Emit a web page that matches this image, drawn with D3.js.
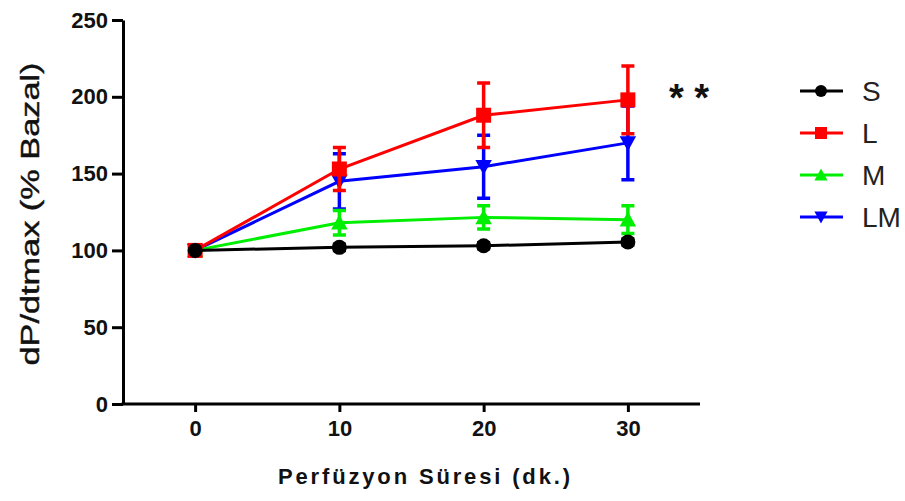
<!DOCTYPE html>
<html>
<head>
<meta charset="utf-8">
<script src="https://cdn.jsdelivr.net/npm/d3@7"></script>
<style>
  html, body { margin: 0; padding: 0; background: #fff; }
  svg { display: block; font-family: "Liberation Sans", Arial, sans-serif; }
</style>
</head>
<body>
<svg id="chart" width="905" height="501"></svg>
<script>
// Perfusion time (min)
const times = [0, 10, 20, 30];

// Series: mean and SEM (% of baseline)
const seriesNames = ["S", "L", "M", "LM"];
const sValues  = [100, 102, 103, 105.5];
const sErr     = [0, 2, 2, 2];
const lValues  = [100, 153, 188, 198];
const lErr     = [0, 14, 21, 22];
const mValues  = [100, 118, 121.5, 120];
const mErr     = [0, 8, 7.5, 9];
const lmValues = [100, 145, 154.5, 170];
const lmErr    = [0, 18, 20.5, 24];

const yTicks = [0, 50, 100, 150, 200, 250];
const xTicks = [0, 10, 20, 30];

const series = [
  { name: "S",  values: sValues,  err: sErr,  color: "#000000", symbol: "circle" },
  { name: "L",  values: lValues,  err: lErr,  color: "#ff0000", symbol: "square" },
  { name: "M",  values: mValues,  err: mErr,  color: "#00ee00", symbol: "triUp" },
  { name: "LM", values: lmValues, err: lmErr, color: "#0000ff", symbol: "triDown" }
];

const svg = d3.select("#chart");

const x = d3.scaleLinear().domain([-5, 35]).range([123, 700]);
const y = d3.scaleLinear().domain([0, 250]).range([404, 20]);

// Marker path generator
function markerPath(symbol, s) {
  switch (symbol) {
    case "circle": return d3.symbol().type(d3.symbolCircle).size(Math.PI * (s / 2) * (s / 2))();
    case "square": return `M${-s/2},${-s/2}H${s/2}V${s/2}H${-s/2}Z`;
    case "triUp":  return `M0,${-s*0.55}L${s*0.55},${s*0.45}L${-s*0.55},${s*0.45}Z`;
    case "triDown":return `M0,${s*0.55}L${s*0.55},${-s*0.45}L${-s*0.55},${-s*0.45}Z`;
  }
}

// Axes
const yAxis = svg.append("g")
  .attr("transform", `translate(${x(-5)},0)`)
  .call(d3.axisLeft(y).tickValues(yTicks).tickSize(11).tickSizeOuter(0).tickPadding(4));
const xAxis = svg.append("g")
  .attr("transform", `translate(0,${y(0)})`)
  .call(d3.axisBottom(x).tickValues(xTicks).tickSize(8).tickSizeOuter(0).tickPadding(8));

[yAxis, xAxis].forEach(g => {
  g.select(".domain").attr("stroke", "#000").attr("stroke-width", 3);
  g.selectAll(".tick line").attr("stroke", "#000").attr("stroke-width", 3);
  g.selectAll(".tick text")
    .attr("fill", "#111")
    .attr("font-size", 22)
    .attr("font-weight", "bold")
    .attr("font-family", "'Liberation Sans', Arial, sans-serif");
});
// Extend the x axis line to meet the y axis corner
xAxis.select(".domain").attr("d", `M${x(-5) - 1.5},0H${x(35)}`);

// Axis titles
svg.append("text")
  .attr("transform", `translate(39,${(y(0) + y(250)) / 2 + 2}) rotate(-90)`)
  .attr("text-anchor", "middle")
  .attr("font-size", 25)
  .attr("fill", "#111")
  .attr("stroke", "#111")
  .attr("stroke-width", 0.4)
  .attr("textLength", 303)
  .attr("lengthAdjust", "spacingAndGlyphs")
  .text("dP/dtmax (% Bazal)");

svg.append("text")
  .attr("x", 424)
  .attr("y", 484)
  .attr("text-anchor", "middle")
  .attr("font-size", 22)
  .attr("font-weight", "bold")
  .attr("fill", "#111")
  .attr("textLength", 292)
  .attr("lengthAdjust", "spacing")
  .text("Perfüzyon Süresi (dk.)");

// Data layers, drawn LM, M, L, S (S on top)
const drawOrder = ["LM", "M", "L", "S"].map(n => series.find(s => s.name === n));
const line = d3.line().x((d, i) => x(times[i])).y(d => y(d));
const capW = 13;

drawOrder.forEach(s => {
  const g = svg.append("g");
  g.append("path")
    .attr("d", line(s.values))
    .attr("fill", "none")
    .attr("stroke", s.color)
    .attr("stroke-width", 3);

  const pts = s.values.map((v, i) => ({ t: times[i], v, e: s.err[i] })).filter(d => d.e > 0);
  g.selectAll(".eb").data(pts).enter().append("path")
    .attr("d", d => {
      const cx = x(d.t), top = y(d.v + d.e), bot = y(d.v - d.e);
      return `M${cx},${top}V${bot}M${cx - capW/2},${top}H${cx + capW/2}M${cx - capW/2},${bot}H${cx + capW/2}`;
    })
    .attr("fill", "none")
    .attr("stroke", s.color)
    .attr("stroke-width", 3.5);

  g.selectAll(".mk").data(s.values).enter().append("path")
    .attr("transform", (d, i) => `translate(${x(times[i])},${y(d)})`)
    .attr("d", markerPath(s.symbol, 15))
    .attr("fill", s.color);
});

// Significance marker
svg.append("text")
  .attr("x", 689)
  .attr("y", 111)
  .attr("text-anchor", "middle")
  .attr("font-size", 38)
  .attr("font-weight", "bold")
  .attr("fill", "#111")
  .attr("textLength", 40)
  .attr("lengthAdjust", "spacing")
  .text("**");

// Legend
const legendY = [91, 133, 175, 217];
series.forEach((s, i) => {
  const g = svg.append("g").attr("transform", `translate(0,${legendY[i]})`);
  g.append("line")
    .attr("x1", 800).attr("x2", 843)
    .attr("stroke", s.color).attr("stroke-width", 3);
  g.append("path")
    .attr("transform", "translate(821,0)")
    .attr("d", markerPath(s.symbol, 12))
    .attr("fill", s.color);
  g.append("text")
    .attr("x", 862)
    .attr("y", 10)
    .attr("font-size", 28)
    .attr("fill", "#222")
    .text(s.name);
});
</script>
</body>
</html>
